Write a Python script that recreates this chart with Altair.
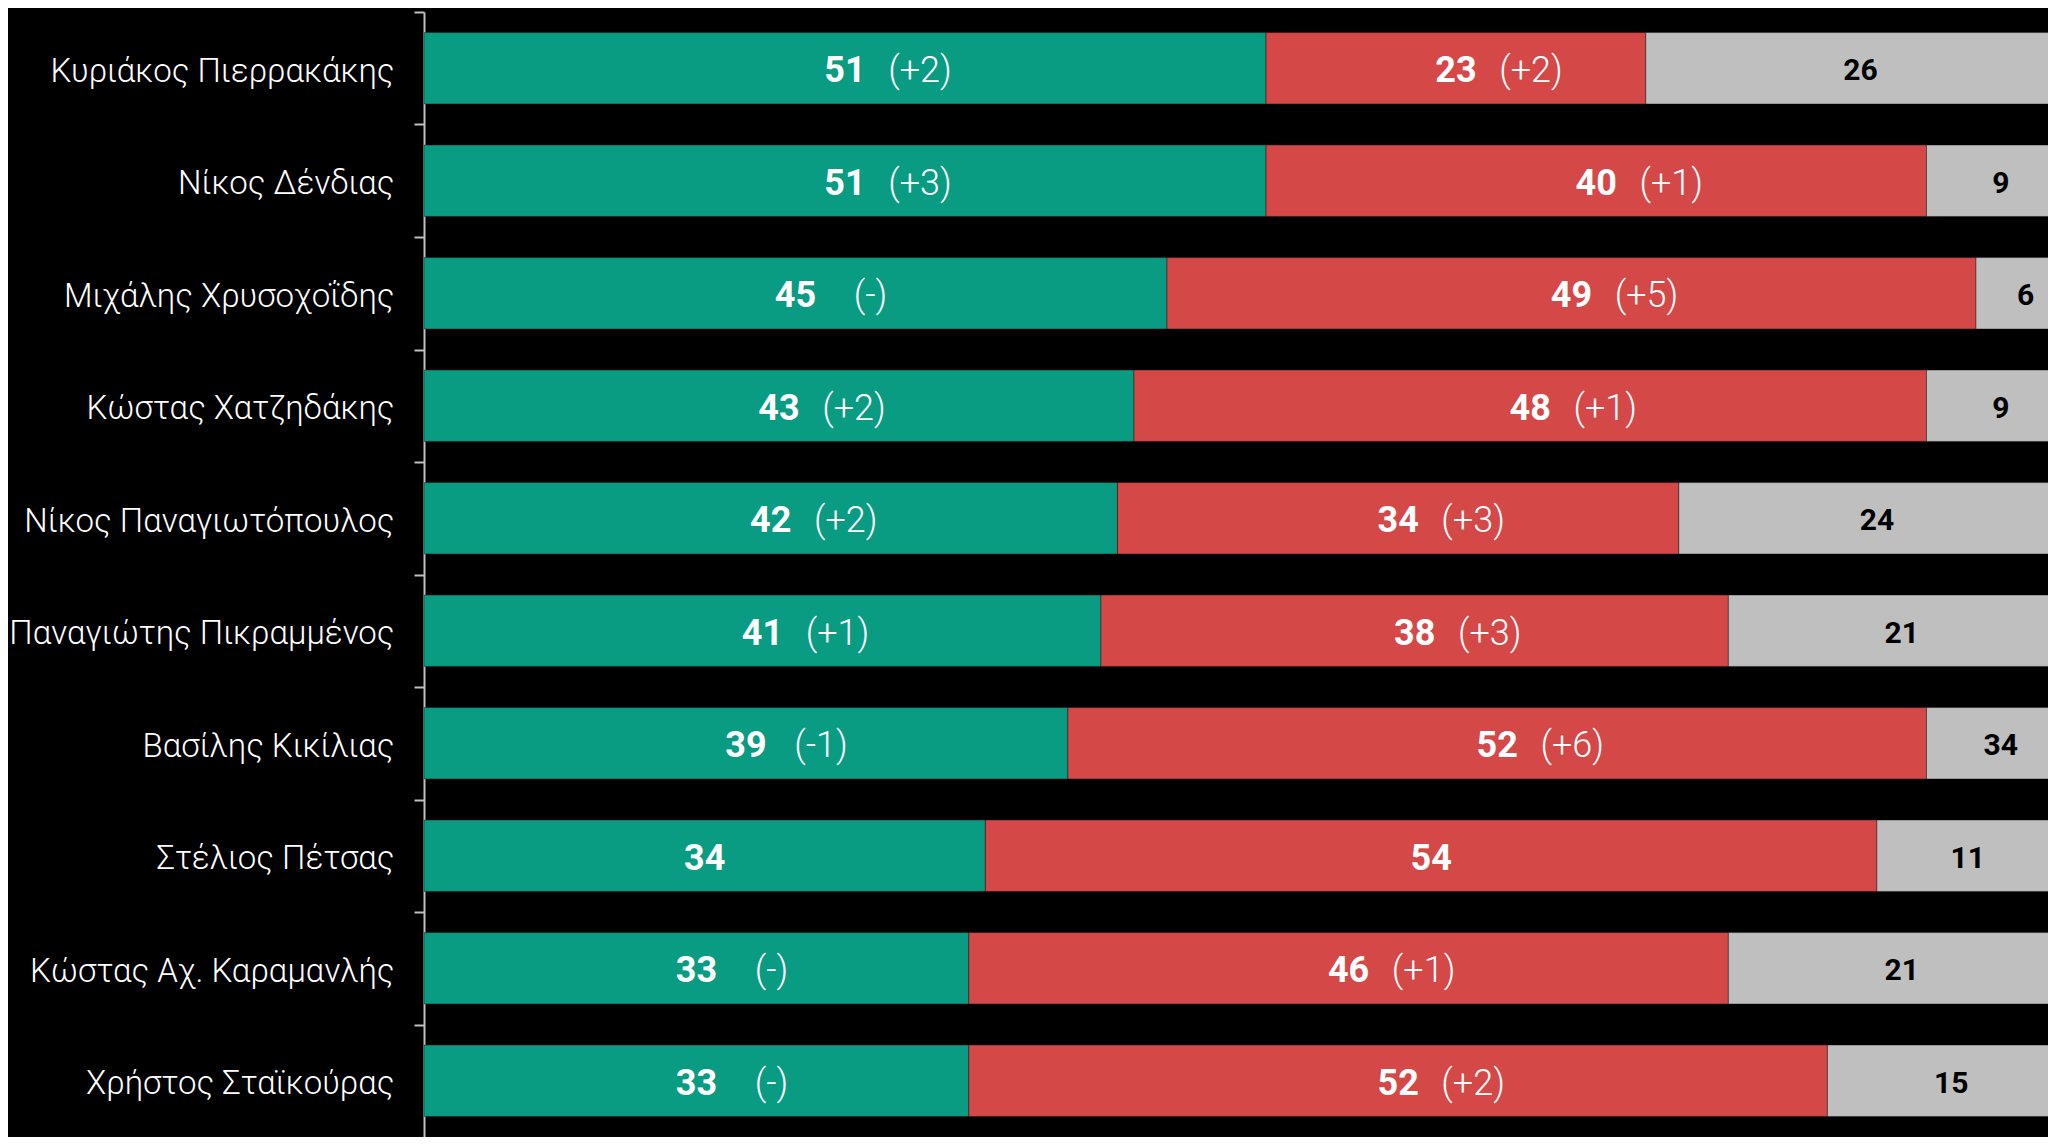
import altair as alt
import pandas as pd

names = [
    "Κυριάκος Πιερρακάκης",
    "Νίκος Δένδιας",
    "Μιχάλης Χρυσοχοΐδης",
    "Κώστας Χατζηδάκης",
    "Νίκος Παναγιωτόπουλος",
    "Παναγιώτης Πικραμμένος",
    "Βασίλης Κικίλιας",
    "Στέλιος Πέτσας",
    "Κώστας Αχ. Καραμανλής",
    "Χρήστος Σταϊκούρας",
]
positive = [51, 51, 45, 43, 42, 41, 39, 34, 33, 33]
negative = [23, 40, 49, 48, 34, 38, 52, 54, 46, 52]
unknown = [26, 9, 6, 9, 24, 21, 34, 11, 21, 15]
positive_change = ["(+2)", "(+3)", "(-)", "(+2)", "(+2)", "(+1)", "(-1)", "", "(-)", "(-)"]
negative_change = ["(+2)", "(+1)", "(+5)", "(+1)", "(+3)", "(+3)", "(+6)", "", "(+1)", "(+2)"]

categories = ["Θετική", "Αρνητική", "ΔΓ/ΔΑ"]
colors = ["#0a9b83", "#d54848", "#bfbfbf"]

rows = []
for i, n in enumerate(names):
    rows.append({"name": n, "cat": categories[0], "order": 0, "value": positive[i],
                 "label": str(positive[i]), "change": positive_change[i]})
    rows.append({"name": n, "cat": categories[1], "order": 1, "value": negative[i],
                 "label": str(negative[i]), "change": negative_change[i]})
    rows.append({"name": n, "cat": categories[2], "order": 2, "value": unknown[i],
                 "label": str(unknown[i]), "change": ""})
df = pd.DataFrame(rows)

PLOT_W = 1624
PLOT_H = 1125
X_MAX = 98.36
PAD_INNER = 0.366
PAD_OUTER = PAD_INNER / 2
STEP = PLOT_H / len(names)
TICK_OFF = -PAD_OUTER * STEP

y_enc = alt.Y(
    "name:N",
    sort=names,
    title=None,
    scale=alt.Scale(paddingInner=PAD_INNER, paddingOuter=PAD_OUTER),
    axis=alt.Axis(
        labelColor="white",
        labelFont="Roboto",
        labelFontWeight=300,
        labelFontSize=33,
        labelPadding=20,
        labelLimit=600,
        labelOffset=3 - TICK_OFF,
        tickSize=10,
        tickWidth=2,
        tickColor="#bfbfbf",
        domainColor="#bfbfbf",
        domainWidth=2,
        bandPosition=0,
        tickExtra=False,
        tickOffset=TICK_OFF,
        grid=False,
    ),
)

base = (
    alt.Chart(df)
    .transform_stack(
        stack="value",
        groupby=["name"],
        sort=[alt.SortField("order", order="ascending")],
        as_=["x0", "x1"],
    )
    .transform_calculate(
        x1c="min(datum.x1, 100)",
        mid="(datum.x0 + min(datum.x1, 100)) / 2",
    )
)

xscale = alt.Scale(domain=[0, X_MAX], nice=False, zero=True)

bars = base.mark_bar(clip=True, stroke="#000000", strokeOpacity=0.35, strokeWidth=1).encode(
    y=y_enc,
    x=alt.X("x0:Q", scale=xscale, axis=None),
    x2="x1c:Q",
    color=alt.Color("cat:N", scale=alt.Scale(domain=categories, range=colors), legend=None),
)

nums = base.transform_filter("datum.order < 2").mark_text(
    font="Roboto", fontWeight="bold", fontSize=36, color="white",
    baseline="middle", align="center", dy=3
).encode(
    y=y_enc,
    x=alt.X("mid:Q", scale=xscale, axis=None),
    text="label:N",
)

changes = base.transform_filter("datum.order < 2").mark_text(
    font="Roboto", fontWeight=300, fontSize=36, color="white",
    baseline="middle", align="center", dx=75, dy=3
).encode(
    y=y_enc,
    x=alt.X("mid:Q", scale=xscale, axis=None),
    text="change:N",
)

greys = base.transform_filter("datum.order == 2").mark_text(
    font="Roboto", fontWeight="bold", fontSize=30, color="black",
    baseline="middle", align="center", dy=3
).encode(
    y=y_enc,
    x=alt.X("mid:Q", scale=xscale, axis=None),
    text="label:N",
)

chart = (
    alt.layer(bars, nums, changes, greys)
    .properties(
        width=PLOT_W,
        height=PLOT_H,
        autosize=alt.AutoSizeParams(type="none"),
        padding={"left": 416, "top": 4, "right": 0, "bottom": 0},
    )
    .configure(background="#000000")
    .configure_view(stroke=None)
)

chart.save("out.html", embed_options={"renderer": "svg", "actions": False})
